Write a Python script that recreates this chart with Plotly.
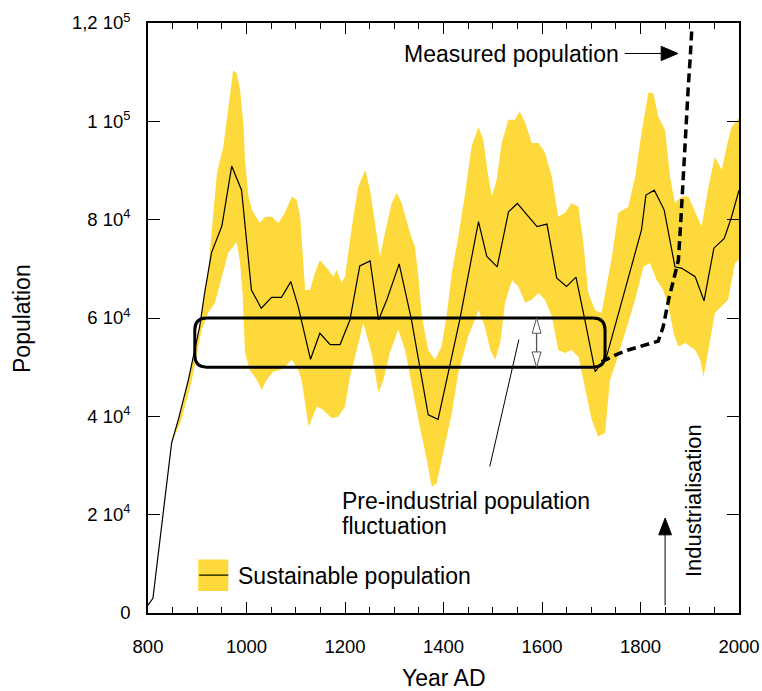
import plotly.graph_objects as go

# ---------------- data ----------------
mean_years = [800, 810, 848, 862, 882, 905, 915, 929, 950, 970, 990, 1010, 1030, 1051, 1071,
              1090, 1105, 1130, 1149, 1170, 1190, 1210, 1230, 1251, 1268, 1285, 1310, 1335,
              1369, 1389, 1433, 1471, 1488, 1509, 1532, 1550, 1570, 1590, 1610, 1630, 1650,
              1669, 1687, 1708, 1731, 1768, 1802, 1811, 1828, 1848, 1870, 1884, 1911, 1929,
              1949, 1970, 1985, 2000]
mean_pop = [1600, 3000, 34600, 39500, 47400, 58300, 65100, 73300, 78700, 90900, 86000, 65700,
            62000, 64200, 64200, 67400, 62300, 51600, 56900, 54600, 54600, 59600, 70600, 71600,
            59600, 63700, 71000, 59600, 40300, 39400, 59600, 79600, 72500, 70400, 81600, 83300,
            80900, 78600, 79100, 68100, 66400, 68300, 59600, 49100, 52100, 65700, 77900, 85000,
            86000, 82000, 70400, 70100, 68400, 63500, 74200, 76200, 80600, 86000]

upper_years = [848, 868, 882, 895, 909, 922, 929, 940, 953, 963, 973, 980, 987, 994, 997, 1004,
               1011, 1027, 1038, 1051, 1065, 1078, 1092, 1102, 1109, 1119, 1129, 1139, 1149,
               1166, 1176, 1183, 1193, 1200, 1214, 1227, 1241, 1251, 1261, 1271, 1281, 1295,
               1305, 1315, 1332, 1342, 1349, 1356, 1369, 1383, 1396, 1407, 1417, 1430, 1444,
               1457, 1471, 1481, 1488, 1498, 1508, 1518, 1532, 1545, 1555, 1566, 1579, 1593,
               1606, 1620, 1633, 1647, 1660, 1674, 1684, 1694, 1708, 1721, 1742, 1755, 1775,
               1789, 1803, 1816, 1826, 1836, 1850, 1860, 1870, 1884, 1897, 1911, 1924, 1938,
               1951, 1965, 1975, 1985, 2000]
upper_pop = [35200, 41300, 47400, 53500, 61000, 69200, 77300, 89500, 94900, 102300, 110400,
             109800, 106400, 98900, 92100, 84700, 82000, 79300, 80600, 80600, 79300, 81400,
             84700, 84000, 80600, 65700, 65700, 69200, 71800, 69800, 68400, 69800, 67100,
             68400, 78600, 86700, 90100, 86000, 79300, 72500, 77300, 83400, 85400, 83400,
             77300, 74500, 68400, 60300, 53500, 51500, 54200, 61000, 69200, 76500, 85400,
             94900, 98900, 96200, 90800, 84700, 88100, 95600, 100300, 100300, 102000, 99700,
             95600, 95600, 93600, 88700, 80600, 81400, 83400, 82600, 75300, 65100, 61600,
             61000, 72500, 81400, 82600, 88700, 98200, 105800, 105800, 101000, 98200, 88700,
             83400, 84700, 84700, 81400, 78600, 86700, 92800, 90100, 94900, 98900, 100700]

lower_years = [848, 868, 889, 909, 922, 936, 950, 963, 973, 980, 987, 992, 994, 997, 1007,
               1021, 1031, 1041, 1054, 1068, 1078, 1092, 1105, 1112, 1126, 1143, 1156, 1173,
               1186, 1200, 1210, 1224, 1237, 1244, 1254, 1268, 1278, 1291, 1308, 1322, 1332,
               1349, 1366, 1376, 1386, 1400, 1417, 1430, 1450, 1471, 1484, 1495, 1505, 1515,
               1525, 1539, 1552, 1566, 1579, 1593, 1606, 1620, 1633, 1647, 1660, 1674, 1688,
               1701, 1714, 1728, 1738, 1752, 1769, 1789, 1806, 1819, 1833, 1846, 1857, 1867,
               1877, 1891, 1911, 1921, 1928, 1938, 1951, 1965, 1978, 1992, 2000]
lower_pop = [34600, 39300, 47400, 57600, 61000, 63100, 68400, 73300, 74500, 75500, 71200,
             65100, 61600, 52900, 49400, 47400, 45400, 47400, 49100, 49400, 50100, 51500,
             49400, 47400, 37900, 42000, 41300, 39600, 39900, 42000, 48100, 53500, 59000,
             56200, 52900, 44800, 47400, 52900, 57600, 53500, 48100, 39300, 31100, 25700,
             26400, 32500, 40700, 48800, 56200, 61600, 58200, 53500, 51500, 54900, 63100,
             67700, 66400, 63100, 63700, 65100, 63700, 60300, 53500, 52900, 53500, 52100,
             45400, 39300, 35900, 36600, 47400, 51500, 57000, 63700, 70400, 71200, 67700,
             65700, 62300, 57000, 54200, 54900, 53500, 51500, 48100, 53500, 61000, 62300,
             63700, 71200, 71800]

measured_years = [1721, 1750, 1775, 1810, 1836, 1846, 1857, 1867, 1877, 1882, 1887, 1892,
                  1897, 1901, 1904]
measured_pop = [51100, 52500, 53500, 54500, 55300, 58200, 63700, 67700, 71800, 80000, 90000,
                99000, 107000, 113000, 118500]

x_tick_vals = [800, 1000, 1200, 1400, 1600, 1800, 2000]
y_tick_vals = [0, 20000, 40000, 60000, 80000, 100000, 120000]
y_tick_text = ["0", "2 10<sup>4</sup>", "4 10<sup>4</sup>", "6 10<sup>4</sup>",
               "8 10<sup>4</sup>", "1 10<sup>5</sup>", "1,2 10<sup>5</sup>"]

# ---------------- styles ----------------
FONT = "Liberation Sans, Arial, Helvetica, sans-serif"
YELLOW = "#FDD93B"
GREY = "#555555"

fig = go.Figure()

# sustainable population band
fig.add_trace(go.Scatter(
    x=upper_years + lower_years[::-1],
    y=upper_pop + lower_pop[::-1],
    fill="toself", fillcolor=YELLOW, mode="lines", line=dict(width=0, color=YELLOW),
    hoverinfo="skip", showlegend=False))

# mean sustainable population
fig.add_trace(go.Scatter(x=mean_years, y=mean_pop, mode="lines",
                         line=dict(color="black", width=1.2), showlegend=False))

# measured population (dashed)
fig.add_trace(go.Scatter(x=measured_years, y=measured_pop, mode="lines",
                         line=dict(color="black", width=3.5, dash="9px,5px"),
                         showlegend=False))

shapes = []

# rounded box (pre-industrial range)
bx0, bx1, by0, by1 = 895, 1728, 50000, 60000
rx, ry = 24, 2450
box_path = (f"M {bx0+rx},{by1} L {bx1-rx},{by1} Q {bx1},{by1} {bx1},{by1-ry} "
            f"L {bx1},{by0+ry} Q {bx1},{by0} {bx1-rx},{by0} L {bx0+rx},{by0} "
            f"Q {bx0},{by0} {bx0},{by0+ry} L {bx0},{by1-ry} Q {bx0},{by1} {bx0+rx},{by1} Z")
shapes.append(dict(type="path", path=box_path, xref="x", yref="y",
                   line=dict(color="black", width=3)))

# double arrow inside box
dax = 1589
shapes.append(dict(type="line", x0=dax, x1=dax, y0=by0, y1=by1, xref="x", yref="y",
                   line=dict(color=GREY, width=1.3)))
hw, hl = 9, 3100
shapes.append(dict(type="path", xref="x", yref="y",
                   path=f"M {dax-hw},{by1-hl} L {dax},{by1} L {dax+hw},{by1-hl} Z",
                   fillcolor="white", line=dict(color=GREY, width=1)))
shapes.append(dict(type="path", xref="x", yref="y",
                   path=f"M {dax-hw},{by0+hl} L {dax},{by0} L {dax+hw},{by0+hl} Z",
                   fillcolor="white", line=dict(color=GREY, width=1)))

# pointer line to box
shapes.append(dict(type="line", x0=1494, y0=29800, x1=1553, y1=55600, xref="x", yref="y",
                   line=dict(color="black", width=1)))

# measured population arrow
my = 113800
shapes.append(dict(type="line", x0=1768, x1=1845, y0=my, y1=my, xref="x", yref="y",
                   line=dict(color="black", width=1)))
shapes.append(dict(type="path", xref="x", yref="y",
                   path=f"M 1842,{my-1450} L 1876,{my} L 1842,{my+1450} Z",
                   fillcolor="black", line=dict(color="black", width=1)))

# industrialisation arrow
ix = 1850
shapes.append(dict(type="line", x0=ix, x1=ix, y0=1600, y1=16500, xref="x", yref="y",
                   line=dict(color=GREY, width=1.5)))
shapes.append(dict(type="path", xref="x", yref="y",
                   path=f"M {ix-13},15900 L {ix},19300 L {ix+13},15900 Z",
                   fillcolor="black", line=dict(color="black", width=1)))

# legend swatch
shapes.append(dict(type="rect", x0=902, x1=963, y0=4450, y1=10900, xref="x", yref="y",
                   fillcolor=YELLOW, line=dict(width=0)))
shapes.append(dict(type="line", x0=904, x1=963, y0=7700, y1=7700, xref="x", yref="y",
                   line=dict(color="#333300", width=1.5)))

annotations = [
    dict(text="Measured population", x=1315, y=113700, xref="x", yref="y",
         xanchor="left", yanchor="middle", showarrow=False, font=dict(size=23)),
    dict(text="Pre-industrial population", x=1190, y=22700, xref="x", yref="y",
         xanchor="left", yanchor="middle", showarrow=False, font=dict(size=23)),
    dict(text="fluctuation", x=1190, y=17600, xref="x", yref="y",
         xanchor="left", yanchor="middle", showarrow=False, font=dict(size=23)),
    dict(text="Industrialisation", x=1909, y=22800, xref="x", yref="y", textangle=-90,
         xanchor="center", yanchor="middle", showarrow=False, font=dict(size=22)),
    dict(text="Sustainable population", x=978, y=7600, xref="x", yref="y",
         xanchor="left", yanchor="middle", showarrow=False, font=dict(size=23)),
    dict(text="Year AD", x=0.5, y=-0.111, xref="paper", yref="paper",
         xanchor="center", yanchor="middle", showarrow=False, font=dict(size=23)),
    dict(text="Population", x=-0.2132, y=0.5, xref="paper", yref="paper", textangle=-90,
         xanchor="center", yanchor="middle", showarrow=False, font=dict(size=23)),
]

fig.update_layout(
    width=762, height=691,
    margin=dict(l=148, r=23, t=23, b=78, autoexpand=False),
    paper_bgcolor="white", plot_bgcolor="white",
    font=dict(family=FONT, color="black", size=18),
    shapes=shapes, annotations=annotations, showlegend=False,
    xaxis=dict(range=[800, 2000], tickvals=x_tick_vals, ticks="inside", ticklen=11,
               tickwidth=1, tickcolor="black", showline=True, linecolor="black",
               linewidth=1.5, mirror="ticks", showgrid=False, zeroline=False,
               automargin=False,
               tickfont=dict(size=18.5), ticklabelstandoff=16,
               minor=dict(dtick=50, tick0=800, ticks="inside", ticklen=6,
                          tickcolor="black", tickwidth=1, showgrid=False)),
    yaxis=dict(range=[0, 120000], tickvals=y_tick_vals, ticktext=y_tick_text,
               ticks="inside", ticklen=12, tickwidth=1, tickcolor="black",
               showline=True, linecolor="black", linewidth=1.5, mirror="ticks",
               showgrid=False, zeroline=False, automargin=False,
               tickfont=dict(size=18.5), ticklabelstandoff=12),
)

fig.write_html("out.html")
